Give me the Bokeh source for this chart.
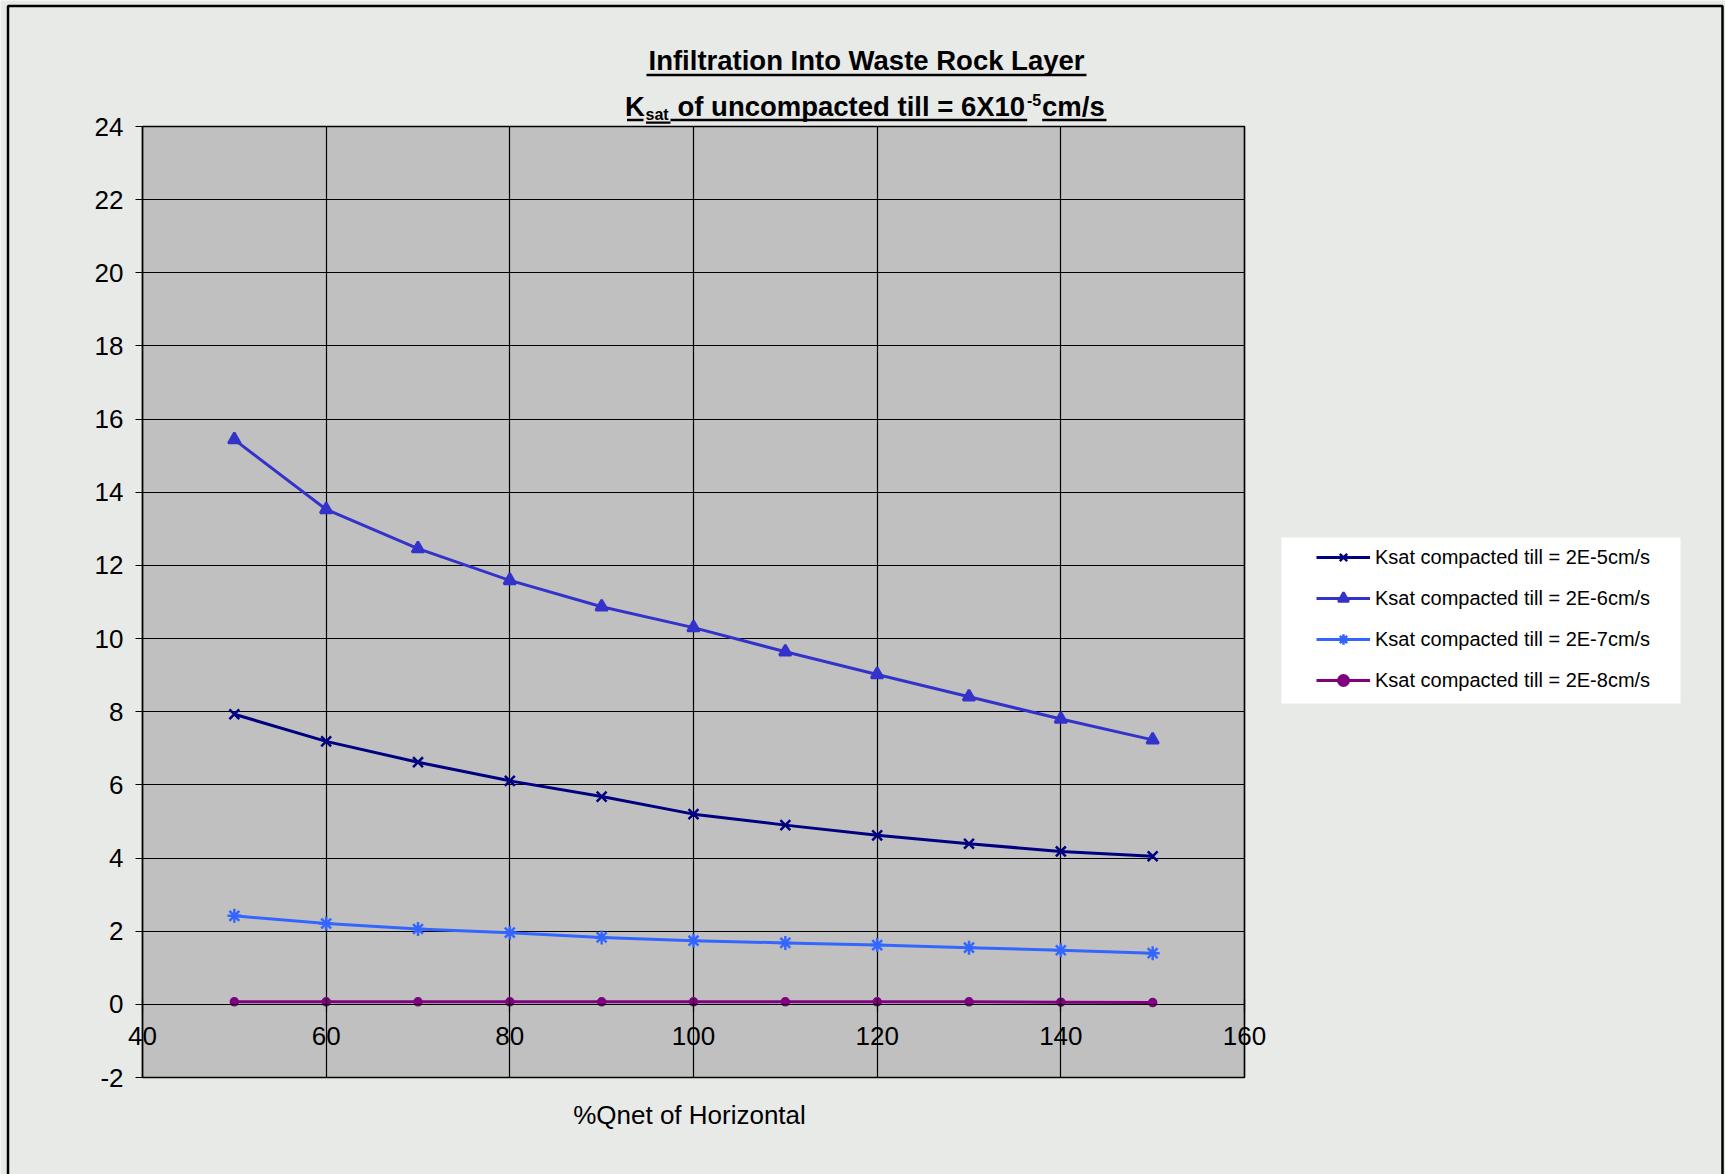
from bokeh.plotting import figure
from bokeh.models import (FixedTicker, Label, BoxAnnotation, Legend, LegendItem,
                          Range1d, Grid)
from bokeh.embed import file_html
from bokeh.resources import INLINE

# ---------------- data ----------------
pct_qnet = [50, 60, 70, 80, 90, 100, 110, 120, 130, 140, 150]
ksat_2e5 = [7.93, 7.19, 6.62, 6.11, 5.68, 5.20, 4.90, 4.62, 4.39, 4.18, 4.05]
ksat_2e6 = [15.44, 13.53, 12.46, 11.59, 10.87, 10.30, 9.64, 9.02, 8.41, 7.80, 7.23]
ksat_2e7 = [2.42, 2.21, 2.06, 1.96, 1.83, 1.74, 1.68, 1.62, 1.55, 1.48, 1.40]
ksat_2e8 = [0.07, 0.07, 0.07, 0.07, 0.07, 0.07, 0.07, 0.07, 0.07, 0.06, 0.05]
series_labels = [
    "Ksat compacted till = 2E-5cm/s",
    "Ksat compacted till = 2E-6cm/s",
    "Ksat compacted till = 2E-7cm/s",
    "Ksat compacted till = 2E-8cm/s",
]
x_ticks = [40, 60, 80, 100, 120, 140, 160]
y_ticks = [-2, 0, 2, 4, 6, 8, 10, 12, 14, 16, 18, 20, 22, 24]
x_lo, x_hi = 40, 160
y_lo, y_hi = -2, 24
title_line1 = "Infiltration Into Waste Rock Layer"
x_title = "%Qnet of Horizontal"

# ---------------- layout ----------------
W, H = 1725, 1174
FL, FR, FT, FB = 142, 1244, 126, 1077   # plot-area edges in page pixels
FONT = "Liberation Sans"
BG = "#E8EAE8"

# the frame spans the whole page, the plot area sits inside it
kx = (x_hi - x_lo) / (FR - FL)
ky = (y_hi - y_lo) / (FB - FT)
x_range = Range1d(x_lo - FL * kx, x_hi + (W - FR) * kx)
y_range = Range1d(y_lo - (H - FB) * ky, y_hi + FT * ky)

def sx(cx):
    return cx

def sy(cy):
    return H - cy

p = figure(width=W, height=H, x_range=x_range, y_range=y_range,
           output_backend="svg", toolbar_location=None, title=None,
           min_border=0, min_border_left=0, min_border_right=0,
           min_border_top=0, min_border_bottom=0)
p.border_fill_color = BG
p.background_fill_color = BG
p.outline_line_color = None

# plot-area background, placed before the grids so they draw on top of it
plot_area = BoxAnnotation(left=x_lo, right=x_hi, bottom=y_lo, top=y_hi,
                          fill_color="#C0C0C0", fill_alpha=1.0,
                          line_color="black", line_alpha=1.0, line_width=1.5,
                          level="underlay")
p.center = [plot_area] + list(p.center)

# axes (crossing at x = 40 and y = 0)
xa = p.xaxis[0]
xa.fixed_location = 0
xa.bounds = (x_lo, x_hi)
xa.ticker = FixedTicker(ticks=x_ticks)
xa.major_tick_in = 6
xa.major_tick_out = 8
xa.minor_tick_in = 0
xa.minor_tick_out = 0
xa.major_label_standoff = 15
xa.major_label_text_font = FONT
xa.major_label_text_font_size = "26px"
xa.major_label_text_color = "black"
xa.axis_line_color = "black"
xa.axis_line_width = 1.2
xa.major_tick_line_color = "black"
xa.major_tick_line_width = 1.2

ya = p.yaxis[0]
ya.fixed_location = x_lo
ya.bounds = (y_lo, y_hi)
ya.ticker = FixedTicker(ticks=y_ticks)
ya.major_label_overrides = {-2: "-2"}
ya.major_tick_in = 8
ya.major_tick_out = 7
ya.minor_tick_in = 0
ya.minor_tick_out = 0
ya.major_label_standoff = 12
ya.major_label_text_font = FONT
ya.major_label_text_font_size = "26px"
ya.major_label_text_color = "black"
ya.axis_line_color = "black"
ya.axis_line_width = 1.2
ya.major_tick_line_color = "black"
ya.major_tick_line_width = 1.2

# grid lines limited to the plot area
if "cross_bounds" in Grid.properties():
    p.xgrid[0].ticker = FixedTicker(ticks=x_ticks)
    p.xgrid[0].cross_bounds = (y_lo, y_hi)
    p.ygrid[0].ticker = FixedTicker(ticks=y_ticks)
    p.ygrid[0].cross_bounds = (x_lo, x_hi)
    for g in (p.xgrid[0], p.ygrid[0]):
        g.grid_line_color = "black"
        g.grid_line_alpha = 1.0
        g.grid_line_width = 1.2
else:
    p.xgrid.visible = False
    p.ygrid.visible = False
    p.segment(x0=x_ticks, x1=x_ticks, y0=[y_lo] * len(x_ticks), y1=[y_hi] * len(x_ticks),
              line_color="black", line_width=1.2)
    p.segment(x0=[x_lo] * len(y_ticks), x1=[x_hi] * len(y_ticks), y0=y_ticks, y1=y_ticks,
              line_color="black", line_width=1.2)

# ---------------- series ----------------
colors = ["#000080", "#3333CC", "#3366FF", "#800080"]
series = [ksat_2e5, ksat_2e6, ksat_2e7, ksat_2e8]
markers = [("x", 14), ("triangle", 12), ("asterisk", 14), ("circle", 7)]

items = []
for ys, col, (mk, sz), lbl in zip(series, colors, markers, series_labels):
    rl = p.line(pct_qnet, ys, line_color=col, line_width=3)
    rm = p.scatter(pct_qnet, ys, marker=mk, size=sz, line_color=col,
                   fill_color=col, line_width=2.5)
    items.append(LegendItem(label=lbl, renderers=[rl, rm]))

# ---------------- legend ----------------
p.add_layout(BoxAnnotation(left=sx(1281), right=sx(1680), top=sy(537), bottom=sy(703),
                           left_units="screen", right_units="screen",
                           top_units="screen", bottom_units="screen",
                           fill_color="white", fill_alpha=1.0, line_alpha=0))
legend = Legend(items=items, location=(sx(1316), sy(693)), orientation="vertical",
                padding=0, margin=0, spacing=15, glyph_width=54, glyph_height=26,
                label_standoff=5, label_height=20, label_text_font=FONT,
                label_text_font_size="20px", label_text_color="black",
                background_fill_alpha=0, border_line_alpha=0)
p.add_layout(legend)

# ---------------- titles ----------------
def lab(text, cx, cy, size, bold=True, align="left"):
    p.add_layout(Label(x=sx(cx), y=sy(cy), x_units="screen", y_units="screen",
                       text=text, text_font=FONT, text_font_size=size,
                       text_font_style="bold" if bold else "normal",
                       text_color="black", text_align=align, text_baseline="middle"))

def uline(x0, x1, y0, y1):
    p.add_layout(BoxAnnotation(left=sx(x0), right=sx(x1), top=sy(y0), bottom=sy(y1),
                               left_units="screen", right_units="screen",
                               top_units="screen", bottom_units="screen",
                               fill_color="black", fill_alpha=1.0, line_alpha=0))

lab(title_line1, 866, 60, "27.5px", align="center")
uline(646, 1086, 73.3, 75.7)

lab("K", 624.5, 106, "27.5px")
lab("sat", 645, 113.5, "16px")
lab("of uncompacted till = 6X10", 677, 106, "27.5px")
lab("-5", 1026.5, 99.5, "16px")
lab("cm/s", 1041.5, 106, "27.5px")
uline(626.5, 643, 118.3, 120.7)
uline(645.5, 670, 120.9, 123.3)
uline(670, 1026.7, 118.3, 120.7)
uline(1041.7, 1106, 118.3, 120.7)

lab(x_title, 689, 1114, "26px", bold=False, align="center")

# outer chart border
p.add_layout(BoxAnnotation(left=sx(7.5), right=sx(1722), top=sy(5.5), bottom=sy(1200),
                           left_units="screen", right_units="screen",
                           top_units="screen", bottom_units="screen",
                           fill_alpha=0, line_color="black", line_alpha=1.0,
                           line_width=2.5))

open("out.html", "w").write(file_html(p, INLINE))
